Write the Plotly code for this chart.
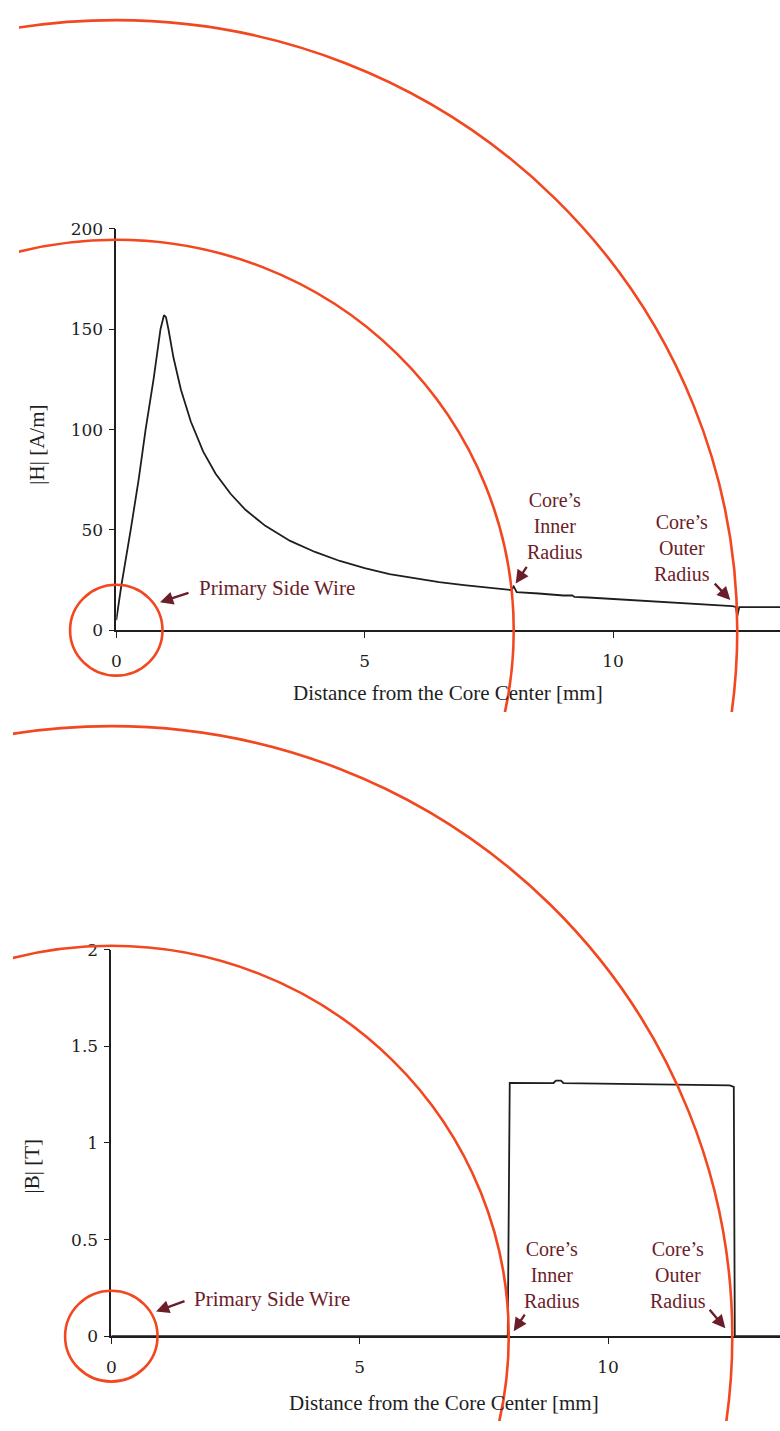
import plotly.graph_objects as go

# ---------------- data ----------------
# |H| along the radial distance from the core centre
H_DIST_MM = [0.0, 0.04, 0.10, 0.29, 0.45, 0.59, 0.75, 0.89, 0.96, 1.0, 1.05, 1.15,
             1.3, 1.5, 1.75, 2.0, 2.3, 2.6, 3.0, 3.5, 4.0, 4.5, 5.0, 5.5, 6.0,
             6.5, 7.0, 7.5, 7.95, 8.0, 8.06, 8.5, 9.0, 9.18, 9.22, 9.5, 10.0,
             10.5, 11.0, 11.5, 12.0, 12.4, 12.47, 12.5, 12.54, 13.4]
H_VALUES = [5, 12, 22, 50, 75, 100, 125, 150, 157, 156, 150, 136,
            120, 104, 89, 78, 68, 60, 52, 44.5, 39, 34.5, 31, 28, 26,
            24, 22.5, 21, 20, 21.8, 19, 18.3, 17.3, 17.4, 16.6, 16.3, 15.6,
            14.8, 14.0, 13.3, 12.6, 12.0, 11.6, 7, 11.5, 11.5]

# |B| along the radial distance from the core centre
B_DIST_MM = [0.0, 7.98, 8.02, 8.9, 8.95, 9.05, 9.1, 12.45, 12.53, 12.55, 13.5]
B_VALUES = [0.0, 0.0, 1.311, 1.31, 1.322, 1.322, 1.31, 1.298, 1.29, 0.0, 0.0]

H_TICKS = [0, 50, 100, 150, 200]
B_TICKS = [0, 0.5, 1, 1.5, 2]
B_TICK_TEXT = ["0", "0.5", "1", "1.5", "2"]
DIST_TICKS = [0, 5, 10]

# geometry markers (radii in mm)
WIRE_RADIUS_MM = 0.93
CORE_INNER_MM = 8.0
CORE_OUTER_MM = 12.5

# ---------------- layout helpers ----------------
W, HGT = 780, 1431
PX_PER_MM_X = 50.0
PX_PER_MM_Y = 49.5


def fx(p):
    return p / W


def fy(p):
    return 1 - p / HGT


RED = "#F2471F"
MAROON = "#6B1D2A"
INK = "#1e1e1e"
FONT = "Liberation Serif"
TICK_FONT = "DejaVu Serif"

# pixel positions of the two panels (origin and top tick)
TOP_X0, TOP_Y0, TOP_YTOP = 112, 629, 222
BOT_X0, BOT_Y0, BOT_YTOP = 107, 1345, 953

fig = go.Figure()

fig.add_trace(go.Scatter(x=H_DIST_MM, y=H_VALUES, mode="lines",
                         line=dict(color=INK, width=1.8),
                         xaxis="x", yaxis="y", showlegend=False))
fig.add_trace(go.Scatter(x=B_DIST_MM, y=B_VALUES, mode="lines",
                         line=dict(color=INK, width=1.8),
                         xaxis="x2", yaxis="y2", showlegend=False))

# invisible overlay subplots used to clip the radius circles
for xa, ya in (("x3", "y3"), ("x4", "y4")):
    fig.add_trace(go.Scatter(x=[0], y=[0], mode="markers",
                             marker=dict(opacity=0), hoverinfo="skip",
                             xaxis=xa, yaxis=ya, showlegend=False))

axis_common = dict(showgrid=False, zeroline=False, showline=True,
                   linecolor=INK, linewidth=1.5, ticks="outside",
                   ticklen=6, tickwidth=1.2, tickcolor=INK,
                   tickfont=dict(family=TICK_FONT, size=17, color=INK),
                   fixedrange=True)

x_top_max = (W - TOP_X0) / PX_PER_MM_X
x_bot_max = (W - BOT_X0) / PX_PER_MM_X

fig.update_layout(
    width=W, height=HGT,
    margin=dict(l=0, r=0, t=0, b=0),
    paper_bgcolor="white", plot_bgcolor="rgba(0,0,0,0)",
    xaxis=dict(domain=[fx(TOP_X0), 1], range=[0, x_top_max], anchor="y",
               tickvals=DIST_TICKS, ticklabelstandoff=9, **axis_common),
    yaxis=dict(domain=[fy(TOP_Y0), fy(TOP_YTOP)], range=[0, 200], anchor="x",
               tickvals=H_TICKS, ticklabelstandoff=2, **axis_common),
    xaxis2=dict(domain=[fx(BOT_X0), 1], range=[0, x_bot_max], anchor="y2",
                tickvals=DIST_TICKS, ticklabelstandoff=9, **axis_common),
    yaxis2=dict(domain=[fy(BOT_Y0), fy(BOT_YTOP)], range=[0, 2], anchor="x2",
                tickvals=B_TICKS, ticktext=B_TICK_TEXT, ticklabelstandoff=2,
                **axis_common),
)

# overlay axes: same mm scale as the data axes, wider clip windows
overlay = dict(visible=False, fixedrange=True, showgrid=False, zeroline=False)
top_clip = dict(left=14, top=0, bottom=712)
bot_clip = dict(left=8, top=700, bottom=HGT)
fig.update_layout(
    xaxis3=dict(domain=[fx(top_clip["left"]), 1], anchor="y3",
                range=[(top_clip["left"] - TOP_X0) / PX_PER_MM_X, x_top_max], **overlay),
    yaxis3=dict(domain=[fy(top_clip["bottom"]), fy(top_clip["top"])], anchor="x3",
                range=[(TOP_Y0 - top_clip["bottom"]) / PX_PER_MM_Y,
                       (TOP_Y0 - top_clip["top"]) / PX_PER_MM_Y], **overlay),
    xaxis4=dict(domain=[fx(bot_clip["left"]), 1], anchor="y4",
                range=[(bot_clip["left"] - BOT_X0) / PX_PER_MM_X, x_bot_max], **overlay),
    yaxis4=dict(domain=[fy(bot_clip["bottom"]), fy(bot_clip["top"])], anchor="x4",
                range=[(BOT_Y0 - bot_clip["bottom"]) / PX_PER_MM_Y,
                       (BOT_Y0 - bot_clip["top"]) / PX_PER_MM_Y], **overlay),
)

shapes = []
for xa, ya in (("x3", "y3"), ("x4", "y4")):
    for r in (WIRE_RADIUS_MM, CORE_INNER_MM, CORE_OUTER_MM):
        shapes.append(dict(type="circle", xref=xa, yref=ya,
                           x0=-r, x1=r, y0=-r, y1=r, layer="above",
                           line=dict(color=RED, width=2.6)))
fig.update_layout(shapes=shapes)

ann = []


def label(text, x, y, xr, yr, xanchor="center", size=20):
    ann.append(dict(text=text, x=x, y=y, xref=xr, yref=yr, showarrow=False,
                    xanchor=xanchor, yanchor="middle", align="center",
                    font=dict(family=FONT, size=size, color=MAROON)))


def arrow(x, y, xr, yr, ax, ay):
    ann.append(dict(text="", x=x, y=y, xref=xr, yref=yr, showarrow=True,
                    ax=ax, ay=ay, arrowhead=2, arrowsize=1.1, arrowwidth=2.4,
                    arrowcolor=MAROON, standoff=0, startstandoff=0))


# top panel callouts
label("Primary Side Wire", 1.62, 20.8, "x", "y", xanchor="left", size=21)
arrow(0.88, 13.9, "x", "y", 30, -10)
label("Core’s<br>Inner<br>Radius", 8.84, 52, "x", "y")
arrow(CORE_INNER_MM + 0.04, 23.3, "x", "y", 12, -18)
label("Core’s<br>Outer<br>Radius", 11.38, 41, "x", "y")
arrow(CORE_OUTER_MM - 0.14, 15, "x", "y", -17, -18)

# bottom panel callouts
label("Primary Side Wire", 1.62, 0.194, "x2", "y2", xanchor="left", size=21)
arrow(0.9, 0.128, "x2", "y2", 30, -11)
label("Core’s<br>Inner<br>Radius", 8.88, 0.316, "x2", "y2")
arrow(CORE_INNER_MM + 0.1, 0.026, "x2", "y2", 12, -18)
label("Core’s<br>Outer<br>Radius", 11.4, 0.316, "x2", "y2")
arrow(CORE_OUTER_MM - 0.14, 0.041, "x2", "y2", -17, -20)

# axis titles
title_font = dict(family=FONT, size=21, color=INK)
ann.append(dict(text="|H| [A/m]", x=fx(32), y=fy(441), xref="paper", yref="paper",
                showarrow=False, textangle=-90, font=title_font,
                xanchor="center", yanchor="middle"))
ann.append(dict(text="|B| [T]", x=fx(27), y=fy(1173), xref="paper", yref="paper",
                showarrow=False, textangle=-90, font=title_font,
                xanchor="center", yanchor="middle"))
ann.append(dict(text="Distance from the Core Center [mm]", x=fx(446), y=fy(693),
                xref="paper", yref="paper", showarrow=False, font=title_font,
                xanchor="center", yanchor="middle"))
ann.append(dict(text="Distance from the Core Center [mm]", x=fx(442), y=fy(1413),
                xref="paper", yref="paper", showarrow=False, font=title_font,
                xanchor="center", yanchor="middle"))

fig.update_layout(annotations=ann)

fig.write_html("out.html")
